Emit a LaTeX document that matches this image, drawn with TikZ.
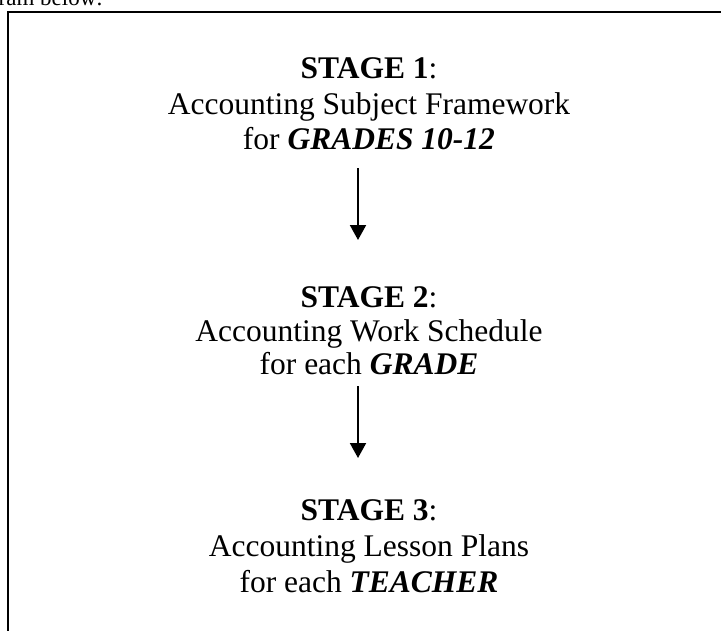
\documentclass[tikz,border=0pt]{standalone}
\usepackage{fontspec}
\setmainfont{Liberation Serif}
\usetikzlibrary{arrows.meta}
\begin{document}
\begin{tikzpicture}[x=1pt,y=-1pt,
  stageline/.style={anchor=base,inner sep=0pt,font=\fontsize{31.5}{36}\selectfont},
  flow/.style={line width=2pt,-{Triangle[width=16pt,length=15pt]}}]
\useasboundingbox (0,0) rectangle (721,630);
\clip (0,0) rectangle (721,630);
\node[anchor=base east,inner sep=0pt,font=\fontsize{23}{27}\selectfont] (intro) at (103,5) {gram below:};
\draw[line width=2pt] (8,640) -- (8,12) -- (730,12);
% stage 1
\node[stageline] (s1a) at (369,78) {\textbf{STAGE 1}:};
\node[stageline] (s1b) at (369,114) {Accounting Subject Framework};
\node[stageline] (s1c) at (369,149) {for \textbf{\textit{GRADES 10-12}}};
% stage 2
\node[stageline] (s2a) at (369,307) {\textbf{STAGE 2}:};
\node[stageline] (s2b) at (369,341) {Accounting Work Schedule};
\node[stageline] (s2c) at (369,374) {for each \textbf{\textit{GRADE}}};
% stage 3
\node[stageline] (s3a) at (369,520) {\textbf{STAGE 3}:};
\node[stageline] (s3b) at (369,556) {Accounting Lesson Plans};
\node[stageline] (s3c) at (369,592) {for each \textbf{\textit{TEACHER}}};
% arrows
\draw[flow,shorten <=19pt,shorten >=67pt] (s1c.base -| 358,0) -- (s2a.base -| 358,0);
\draw[flow,shorten <=12pt,shorten >=62pt] (s2c.base -| 358,0) -- (s3a.base -| 358,0);
\end{tikzpicture}
\end{document}
